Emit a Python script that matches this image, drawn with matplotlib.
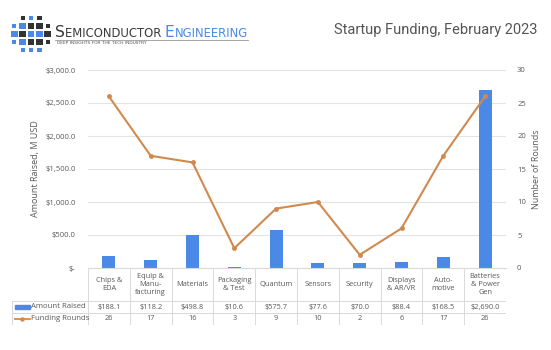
import matplotlib
matplotlib.use('Agg')
import matplotlib.pyplot as plt
from matplotlib.patches import Rectangle
from matplotlib.lines import Line2D
from matplotlib.ticker import FuncFormatter, MultipleLocator
import numpy as np

plt.rcParams['font.family'] = ['Open Sans', 'DejaVu Sans']

# February 2023 startup funding by sector
categories = ['Chips &\nEDA', 'Equip &\nManu-\nfacturing', 'Materials', 'Packaging\n& Test',
              'Quantum', 'Sensors', 'Security', 'Displays\n& AR/VR', 'Auto-\nmotive',
              'Batteries\n& Power\nGen']
amount = [188.1, 118.2, 498.8, 10.6, 575.7, 77.6, 70.0, 88.4, 168.5, 2690.0]
rounds = [26, 17, 16, 3, 9, 10, 2, 6, 17, 26]

BLUE = '#4a8ae6'
ORANGE = '#d08a4e'
GRID = '#e3e3e3'
TXT = '#595959'

W, H = 551, 350
fig = plt.figure(figsize=(W / 100, H / 100), dpi=100)

def px(x0, y0, x1, y1):
    # pixel box (top-left origin) -> figure fraction rect
    return [x0 / W, 1 - y1 / H, (x1 - x0) / W, (y1 - y0) / H]

ax = fig.add_axes(px(88, 70, 506, 268))
x = np.arange(len(categories))
ax.bar(x, amount, width=0.31, color=BLUE, zorder=2)
ax.set_xlim(-0.5, len(categories) - 0.5)
ax.set_ylim(0, 3000)
ax.yaxis.set_major_locator(MultipleLocator(500))
ax.yaxis.set_major_formatter(FuncFormatter(lambda v, p: '$-' if v == 0 else f'${v:,.1f}'))
ax.grid(axis='y', color=GRID, lw=0.8, zorder=0)
ax.set_xticks([])
for s in ['top', 'right', 'left']:
    ax.spines[s].set_visible(False)
ax.spines['bottom'].set_color('#d9d9d9')
ax.tick_params(axis='y', length=0, labelsize=5.5, labelcolor=TXT, pad=9)
ax.set_ylabel('Amount Raised, M USD', fontsize=6.5, color=TXT, labelpad=4)

ax2 = ax.twinx()
ax2.plot(x, rounds, color=ORANGE, lw=1.5, marker='o', ms=2.5, zorder=3)
ax2.set_ylim(0, 30)
ax2.yaxis.set_major_locator(MultipleLocator(5))
for s in ax2.spines.values():
    s.set_visible(False)
ax2.tick_params(axis='y', length=0, labelsize=5.5, labelcolor=TXT, pad=8)
ax2.set_ylabel('Number of Rounds', fontsize=6.5, color=TXT, labelpad=4)

# data table under the plot
lab_w = (88 - 12) / ((506 - 88) / len(categories))
tx = fig.add_axes(px(12, 268, 506, 325))
tx.set_xlim(-0.5 - lab_w, len(categories) - 0.5)
tx.set_ylim(0, 57)
tx.axis('off')
y_hdr, y_amt, y_rnd = 57, 24, 12
lc = '#d9d9d9'
for k in range(len(categories) + 1):
    tx.plot([k - 0.5, k - 0.5], [0, y_hdr], color=lc, lw=0.7)
tx.plot([-0.5 - lab_w] * 2, [0, y_amt], color=lc, lw=0.7)
for yy in [0, y_rnd, y_amt]:
    tx.plot([-0.5 - lab_w, len(categories) - 0.5], [yy, yy], color=lc, lw=0.7)
for k, c in enumerate(categories):
    tx.text(k, (y_hdr + y_amt) / 2, c, ha='center', va='center', fontsize=5.3,
            color=TXT, linespacing=1.25)
    tx.text(k, (y_amt + y_rnd) / 2, f'${amount[k]:,.1f}', ha='center', va='center',
            fontsize=5.3, color=TXT)
    tx.text(k, y_rnd / 2, str(rounds[k]), ha='center', va='center', fontsize=5.3, color=TXT)

lx0 = -0.5 - lab_w + 0.07
tx.add_patch(Rectangle((lx0, (y_amt + y_rnd) / 2 - 2), 0.36, 4, color=BLUE))
tx.plot([lx0, lx0 + 0.36], [y_rnd / 2] * 2, color=ORANGE, lw=1.3)
tx.plot([lx0 + 0.18], [y_rnd / 2], 'o', color=ORANGE, ms=2.2)
tx.text(lx0 + 0.39, (y_amt + y_rnd) / 2, 'Amount Raised', va='center', fontsize=5.6, color=TXT)
tx.text(lx0 + 0.39, y_rnd / 2, 'Funding Rounds', va='center', fontsize=5.6, color=TXT)

# title
fig.text(537 / W, 1 - 30 / H, 'Startup Funding, February 2023', ha='right', va='center',
         fontsize=10.5, color='#555555', family='Roboto')

# logo squares
lg = fig.add_axes(px(10, 12, 52, 56))
lg.set_xlim(0, 5)
lg.set_ylim(5.5, 0)
lg.axis('off')
cells = [(0, 1, 'k', 0.5), (0, 2, 'b', 0.5), (0, 3, 'k', 0.5),
         (1, 0, 'b', 0.5), (1, 1, 'b', 0.8), (1, 2, 'k', 0.8), (1, 3, 'k', 0.8), (1, 4, 'k', 0.5),
         (2, 0, 'b', 0.8), (2, 1, 'k', 0.8), (2, 2, 'b', 0.8), (2, 3, 'b', 0.8), (2, 4, 'k', 0.8),
         (3, 0, 'b', 0.5), (3, 1, 'b', 0.8), (3, 2, 'k', 0.8), (3, 3, 'k', 0.8), (3, 4, 'k', 0.5),
         (4, 1, 'b', 0.5), (4, 2, 'b', 0.5), (4, 3, 'b', 0.5)]
for r, c, col, s in cells:
    lg.add_patch(Rectangle((c + 0.5 - s / 2, r + 0.75 - s / 2), s, s,
                           color='#4a8ae6' if col == 'b' else '#333333', lw=0))

renderer = fig.canvas.get_renderer()
xpos = 55
for t, fs, col in [('S', 11.2, '#3a3a3a'), ('EMICONDUCTOR ', 8.4, '#3a3a3a'),
                   ('E', 11.2, '#4a8ae6'), ('NGINEERING', 8.4, '#4a8ae6')]:
    tt = fig.text(xpos / W, 1 - 37 / H, t, fontsize=fs, color=col, family='DejaVu Sans',
                  va='baseline', ha='left')
    xpos += tt.get_window_extent(renderer).width
fig.add_artist(Line2D([55 / W, 248 / W], [1 - 39.5 / H] * 2, color='#9a9a9a', lw=0.6))
fig.text(57 / W, 1 - 43.5 / H, 'DEEP INSIGHTS FOR THE TECH INDUSTRY', fontsize=3.2,
         color='#555555', va='center', family='DejaVu Sans')

fig.savefig('out.png', dpi=100)
